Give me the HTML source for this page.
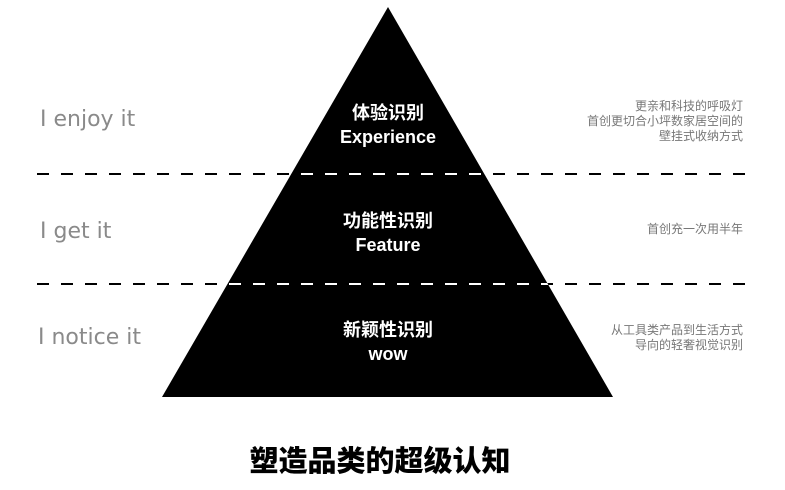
<!DOCTYPE html>
<html><head><meta charset="utf-8"><style>
html,body{margin:0;padding:0;background:#fff;width:785px;height:490px;overflow:hidden}
svg{display:block}
</style></head><body>
<svg width="785" height="490" viewBox="0 0 785 490" xmlns="http://www.w3.org/2000/svg">
<defs><clipPath id="tri"><polygon points="388,7 613,397 162,397"/></clipPath></defs>
<polygon points="388,7 613,397 162,397" fill="#000"/>
<g stroke="#000" stroke-width="2" stroke-dasharray="12 12">
<line x1="37" y1="174" x2="752" y2="174"/>
<line x1="37" y1="284" x2="752" y2="284"/>
</g>
<g stroke="#fff" stroke-width="2" stroke-dasharray="12 12" clip-path="url(#tri)">
<line x1="37" y1="174" x2="752" y2="174"/>
<line x1="37" y1="284" x2="752" y2="284"/>
</g>
<g font-family="DejaVu Sans, sans-serif" font-size="22" fill="#8a8a8a">
<text x="40" y="126">I enjoy it</text>
<text x="40" y="238">I get it</text>
<text x="38" y="344">I notice it</text>
</g>
<g font-family="Liberation Sans, 'Noto Sans CJK SC', sans-serif" font-size="18" font-weight="bold" fill="#fff" text-anchor="middle">
<text x="388" y="119">体验识别</text>
<text x="388" y="143">Experience</text>
<text x="388" y="227">功能性识别</text>
<text x="388" y="251">Feature</text>
<text x="388" y="336">新颖性识别</text>
<text x="388" y="360">wow</text>
</g>
<g font-family="'Noto Sans CJK SC', sans-serif" font-size="12" fill="#777" text-anchor="end">
<text x="743" y="110">更亲和科技的呼吸灯</text>
<text x="743" y="125">首创更切合小坪数家居空间的</text>
<text x="743" y="140">壁挂式收纳方式</text>
<text x="743" y="233">首创充一次用半年</text>
<text x="743" y="334">从工具类产品到生活方式</text>
<text x="743" y="349">导向的轻奢视觉识别</text>
</g>
<text x="380" y="471" font-family="'Noto Sans CJK SC', sans-serif" font-size="29" font-weight="900" fill="#000" text-anchor="middle">塑造品类的超级认知</text>
</svg>
</body></html>
